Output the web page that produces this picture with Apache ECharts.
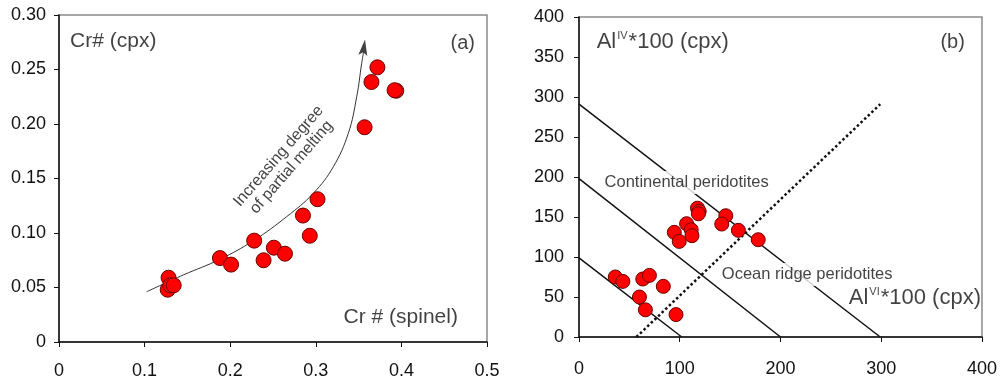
<!DOCTYPE html>
<html>
<head>
<meta charset="utf-8">
<script src="https://cdn.jsdelivr.net/npm/echarts/dist/echarts.min.js"></script>
<style>
html,body{margin:0;padding:0;background:#fff;}
#c{width:1000px;height:381px;}
</style>
</head>
<body>
<div id="c"></div>
<script>
// ---- Panel (a) data ----
const xTicksA = ['0', '0.1', '0.2', '0.3', '0.4', '0.5'];
const yTicksA = ['0', '0.05', '0.10', '0.15', '0.20', '0.25', '0.30'];
const crSpinelCpx = [
  [0.128, 0.059], [0.127, 0.048], [0.130, 0.052], [0.134, 0.052],
  [0.188, 0.077], [0.201, 0.071], [0.228, 0.093], [0.239, 0.075],
  [0.251, 0.0865], [0.264, 0.081], [0.285, 0.116], [0.293, 0.0975],
  [0.302, 0.131], [0.357, 0.197], [0.365, 0.2385], [0.372, 0.252],
  [0.394, 0.2305], [0.392, 0.231]
];
const meltingCurve = [
  [0.1024, 0.0461], [0.1452, 0.0615], [0.1881, 0.0759], [0.2270, 0.0929],
  [0.2660, 0.1150], [0.2971, 0.1364], [0.3205, 0.1608], [0.3380, 0.1915],
  [0.3478, 0.2250], [0.3536, 0.2557], [0.3558, 0.2660]
];
const meltingArrowHead = [[0.3562, 0.2703]];

// ---- Panel (b) data ----
const xTicksB = ['0', '100', '200', '300', '400'];
const yTicksB = ['0', '50', '100', '150', '200', '250', '300', '350', '400'];
const alIvVi = [
  [36, 75], [43.5, 69.5], [63.3, 72.5], [69.9, 77], [83.7, 63.3], [60, 50],
  [65.9, 34], [96.3, 28],
  [94.6, 130.8], [99.5, 119.5], [106.8, 141.6], [111.4, 134], [112.1, 126.6],
  [117.6, 161], [119.3, 157], [118.5, 154], [145.7, 151.6], [141.7, 141.2],
  [158.2, 133.3], [177.9, 121.6]
];
const line100 = [[0, 99], [102, 0]];
const line200 = [[0, 198], [200, 0]];
const line300 = [[0, 291], [299, 0]];
const dividerLine = [[57, 0], [299, 291]];

const FONT = 'Liberation Sans';
const tickColor = '#111';

function axisCommon(grid, min, max, interval, labels, margin) {
  return {
    type: 'value', gridIndex: grid, min: min, max: max, interval: interval,
    axisLine: { show: true, onZero: false, lineStyle: { color: '#111', width: 1.5 } },
    axisTick: { show: true, inside: false, length: 5, lineStyle: { color: '#111', width: 1 } },
    splitLine: { show: false },
    axisLabel: {
      show: true, margin: margin, color: tickColor, fontFamily: FONT, fontSize: 18,
      formatter: function (v, i) { return labels[i]; }
    }
  };
}

function textMark(grid, value, text, opts) {
  return {
    type: 'scatter', xAxisIndex: grid, yAxisIndex: grid, symbolSize: 0, silent: true, z: 6,
    data: [{ value: value }],
    label: Object.assign({
      show: true, position: [0, 0], formatter: text,
      fontFamily: FONT, color: '#111', fontSize: 21,
      align: 'left', verticalAlign: 'middle'
    }, opts)
  };
}

const chart = echarts.init(document.getElementById('c'), null, { renderer: 'canvas' });

const supRich = {
  a: { fontFamily: FONT, fontSize: 22, color: '#111' },
  s: { fontFamily: FONT, fontSize: 11, color: '#111', verticalAlign: 'top', padding: [0, 1, 11, 1] }
};

const option = {
  animation: false,
  backgroundColor: '#fff',
  grid: [
    { left: 59, right: 513, top: 15, bottom: 39, show: true, borderColor: '#8a8a8a', borderWidth: 1.5, backgroundColor: 'transparent' },
    { left: 579, right: 16, top: 17, bottom: 44, show: true, borderColor: '#8a8a8a', borderWidth: 1.5, backgroundColor: 'transparent' }
  ],
  xAxis: [
    axisCommon(0, 0, 0.5, 0.1, xTicksA, 20),
    axisCommon(1, 0, 400, 100, xTicksB, 23)
  ],
  yAxis: [
    axisCommon(0, 0, 0.30, 0.05, yTicksA, 13),
    axisCommon(1, 0, 400, 50, yTicksB, 15)
  ],
  series: [
    // Panel (a)
    {
      type: 'line', xAxisIndex: 0, yAxisIndex: 0, data: meltingCurve, smooth: 0.4,
      showSymbol: false, symbol: 'none', silent: true, z: 2,
      lineStyle: { color: '#333', width: 1 }
    },
    {
      type: 'scatter', xAxisIndex: 0, yAxisIndex: 0, data: meltingArrowHead, silent: true, z: 2,
      symbol: 'path://M0,0 L5,16 L0,13 L-5,16 Z', symbolSize: [9, 16], symbolRotate: -8,
      itemStyle: { color: '#111' }
    },
    {
      type: 'scatter', xAxisIndex: 0, yAxisIndex: 0, data: crSpinelCpx, symbolSize: 15, z: 4,
      itemStyle: { color: '#ff0000', borderColor: '#6a0000', borderWidth: 1, opacity: 1 }
    },
    textMark(0, [0.0129, 0.276], 'Cr# (cpx)', {}),
    textMark(0, [0.486, 0.2743], '(a)', { align: 'right', fontSize: 20 }),
    textMark(0, [0.466, 0.0229], 'Cr # (spinel)', { align: 'right' }),
    textMark(0, [0.264, 0.1654], 'Increasing degree\nof partial melting',
      { align: 'center', fontSize: 16, lineHeight: 17, rotate: 49 }),

    // Panel (b)
    {
      type: 'line', xAxisIndex: 1, yAxisIndex: 1, data: line100, symbol: 'none', silent: true, z: 2,
      lineStyle: { color: '#111', width: 1.5 }
    },
    {
      type: 'line', xAxisIndex: 1, yAxisIndex: 1, data: line200, symbol: 'none', silent: true, z: 2,
      lineStyle: { color: '#111', width: 1.5 }
    },
    {
      type: 'line', xAxisIndex: 1, yAxisIndex: 1, data: line300, symbol: 'none', silent: true, z: 2,
      lineStyle: { color: '#111', width: 1.5 }
    },
    {
      type: 'line', xAxisIndex: 1, yAxisIndex: 1, data: dividerLine, symbol: 'none', silent: true, z: 2,
      lineStyle: { color: '#111', width: 2.5, type: [2.5, 2.5] }
    },
    {
      type: 'scatter', xAxisIndex: 1, yAxisIndex: 1, data: alIvVi, symbolSize: 14, z: 4,
      itemStyle: { color: '#ff0000', borderColor: '#6a0000', borderWidth: 1, opacity: 1 }
    },
    textMark(1, [17.5, 369], '{a|Al}{s|IV}{a|*100 (cpx)}', { rich: supRich }),
    textMark(1, [383, 368], '(b)', { align: 'right', fontSize: 20 }),
    textMark(1, [399, 49], '{a|Al}{s|VI}{a|*100 (cpx)}', { align: 'right', rich: supRich }),
    textMark(1, [23.4, 193], 'Continental peridotites',
      { fontSize: 16.5, backgroundColor: '#fff', padding: [3, 2, 3, 2] }),
    textMark(1, [139.8, 78], 'Ocean ridge peridotites',
      { fontSize: 16.5, backgroundColor: '#fff', padding: [3, 2, 3, 2] })
  ]
};

chart.setOption(option);
</script>
</body>
</html>
